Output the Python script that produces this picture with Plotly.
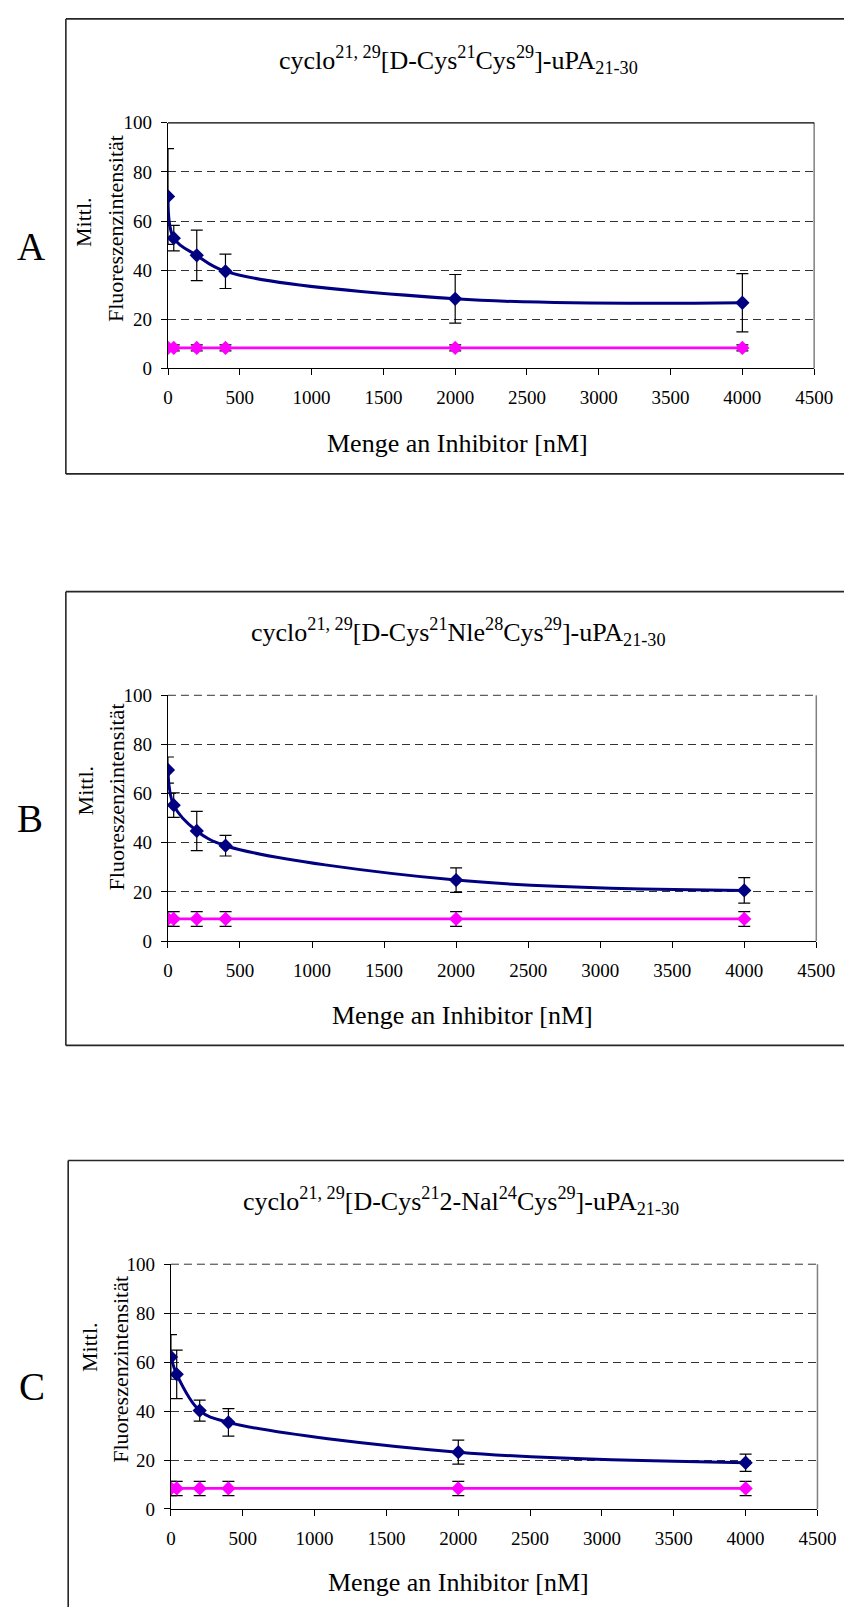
import plotly.graph_objects as go

W, H = 863, 1618

# ---------------- data ----------------
conc = [0, 40, 200, 400, 2000, 4000]

a_inhib = [70.0, 53.0, 46.0, 39.5, 28.3, 26.7]
a_inhib_err = [19.5, 5.2, 10.3, 7.0, 9.9, 11.9]
a_ctrl = [8.3, 8.3, 8.3, 8.3, 8.3, 8.3]
a_ctrl_err = [1.2, 1.2, 1.2, 1.2, 1.2, 1.2]

b_inhib = [69.6, 55.3, 44.8, 38.8, 24.8, 20.6]
b_inhib_err = [5.3, 5.0, 8.0, 4.2, 5.0, 5.2]
b_ctrl = [9.0, 9.0, 9.0, 9.0, 9.0, 9.0]
b_ctrl_err = [3.0, 3.0, 3.0, 3.0, 3.0, 3.0]

c_inhib = [62.1, 55.0, 40.2, 35.4, 23.2, 18.9]
c_inhib_err = [9.1, 9.9, 4.3, 5.6, 4.9, 3.5]
c_ctrl = [8.4, 8.4, 8.4, 8.4, 8.4, 8.4]
c_ctrl_err = [2.9, 2.9, 2.9, 2.9, 2.9, 2.9]

titles = [
    "cyclo<sup>21, 29</sup>[D-Cys<sup>21</sup>Cys<sup>29</sup>]-uPA<sub>21-30</sub>",
    "cyclo<sup>21, 29</sup>[D-Cys<sup>21</sup>Nle<sup>28</sup>Cys<sup>29</sup>]-uPA<sub>21-30</sub>",
    "cyclo<sup>21, 29</sup>[D-Cys<sup>21</sup>2-Nal<sup>24</sup>Cys<sup>29</sup>]-uPA<sub>21-30</sub>",
]
panel_letters = ["A", "B", "C"]
x_title = "Menge an Inhibitor [nM]"
y_title_1 = "Mittl."
y_title_2 = "Fluoreszenzintensität"
x_ticks = [0, 500, 1000, 1500, 2000, 2500, 3000, 3500, 4000, 4500]
y_ticks = [0, 20, 40, 60, 80, 100]

# ---------------- layout (pixel geometry) ----------------
FONT = "Liberation Serif, Times New Roman, serif"
NAVY = "#000080"
MAGENTA = "#FF00FF"
FRAME_COL = "#262626"

panels = [
    dict(inh=a_inhib, inh_e=a_inhib_err, ctl=a_ctrl, ctl_e=a_ctrl_err,
         plot=(167.7, 114.3, 832.3, 363.0), frame=(62.6, 9.0, 470.0),
         title=(466, 51), xt=(465, 439), yt1=(80, 215), yt2=(113, 221),
         letter=(27, 240), top_solid=True),
    dict(inh=b_inhib, inh_e=b_inhib_err, ctl=b_ctrl, ctl_e=b_ctrl_err,
         plot=(167.6, 694.3, 834.5, 943.3), frame=(62.6, 589.3, 1049.0),
         title=(466, 630), xt=(471, 1019), yt1=(83, 791), yt2=(115, 797),
         letter=(26, 819), top_solid=False),
    dict(inh=c_inhib, inh_e=c_inhib_err, ctl=c_ctrl, ctl_e=c_ctrl_err,
         plot=(170.7, 1270.7, 835.7, 1518.7), frame=(65.0, 1165.7, None),
         title=(469, 1207), xt=(466, 1593), yt1=(87, 1355), yt2=(118, 1377),
         letter=(28, 1395), top_solid=False),
]


def px(x):
    return x / W


def py(y):
    return 1 - y / H


fig = go.Figure()
shapes = []
annotations = []

for i, p in enumerate(panels):
    n = i + 1
    xa = "x" if n == 1 else f"x{n}"
    ya = "y" if n == 1 else f"y{n}"
    x0, y0, x1, y1 = p["plot"]

    fig.add_trace(go.Scatter(
        x=conc, y=p["ctl"], xaxis=xa, yaxis=ya, mode="lines+markers",
        line=dict(color=MAGENTA, width=2.8),
        marker=dict(symbol="diamond", size=11, color=MAGENTA),
        error_y=dict(type="data", array=p["ctl_e"], color="black", thickness=1.2, width=6),
        showlegend=False, hoverinfo="skip"))
    fig.add_trace(go.Scatter(
        x=conc, y=p["inh"], xaxis=xa, yaxis=ya, mode="lines+markers",
        line=dict(color=NAVY, width=3, shape="spline", smoothing=1.0),
        marker=dict(symbol="diamond", size=11, color=NAVY),
        error_y=dict(type="data", array=p["inh_e"], color="black", thickness=1.2, width=6),
        showlegend=False, hoverinfo="skip"))

    axis_common = dict(
        showline=True, linecolor="black", linewidth=1.3,
        ticks="outside", ticklen=6, tickwidth=1.2, tickcolor="black",
        tickfont=dict(family=FONT, size=19, color="black"),
        zeroline=False, mirror=False,
    )
    fig.layout[f"xaxis{'' if n == 1 else n}"] = dict(
        axis_common, domain=[px(x0), px(x1)], anchor=ya, range=[0, 4500],
        tickvals=x_ticks, showgrid=False, ticklabelstandoff=6,
    )
    fig.layout[f"yaxis{'' if n == 1 else n}"] = dict(
        axis_common, domain=[py(y1), py(y0)], anchor=xa, range=[0, 100],
        tickvals=y_ticks, showgrid=True, gridcolor="#333333", gridwidth=1,
        griddash="8px,5px", ticklabelstandoff=5,
    )

    # right border (grey) and top border
    shapes.append(dict(type="line", xref=f"{xa} domain", yref=f"{ya} domain",
                       x0=1, x1=1, y0=0, y1=1, line=dict(color="#808080", width=1.5)))
    if p["top_solid"]:
        shapes.append(dict(type="line", xref=f"{xa} domain", yref=f"{ya} domain",
                           x0=0, x1=1, y0=1, y1=1, line=dict(color="black", width=1.3)))
    else:
        shapes.append(dict(type="line", xref=f"{xa} domain", yref=f"{ya} domain",
                           x0=0, x1=1, y0=1, y1=1,
                           line=dict(color="#333333", width=1, dash="8px,5px")))

    # outer frame (open to the right; kept inside the page)
    fx0, fy0, fy1 = p["frame"]
    bottom = fy1 if fy1 is not None else H
    shapes.append(dict(type="line", xref="paper", yref="paper",
                       x0=px(fx0), x1=px(fx0), y0=py(bottom), y1=py(fy0),
                       line=dict(color=FRAME_COL, width=1.6), layer="below"))
    shapes.append(dict(type="line", xref="paper", yref="paper",
                       x0=px(fx0), x1=1, y0=py(fy0), y1=py(fy0),
                       line=dict(color=FRAME_COL, width=1.6), layer="below"))
    if fy1 is not None:
        shapes.append(dict(type="line", xref="paper", yref="paper",
                           x0=px(fx0), x1=1, y0=py(fy1), y1=py(fy1),
                           line=dict(color=FRAME_COL, width=1.6), layer="below"))

    # texts
    tx, ty = p["title"]
    annotations.append(dict(text=titles[i], x=px(tx), y=py(ty), xref="paper", yref="paper",
                            xanchor="center", yanchor="middle", showarrow=False,
                            font=dict(family=FONT, size=26, color="black")))
    xx, xy = p["xt"]
    annotations.append(dict(text=x_title, x=px(xx), y=py(xy), xref="paper", yref="paper",
                            xanchor="center", yanchor="middle", showarrow=False,
                            font=dict(family=FONT, size=26, color="black")))
    for (ax, ay), txt in ((p["yt1"], y_title_1), (p["yt2"], y_title_2)):
        annotations.append(dict(text=txt, x=px(ax), y=py(ay), xref="paper", yref="paper",
                                xanchor="center", yanchor="middle", showarrow=False,
                                textangle=-90,
                                font=dict(family=FONT, size=22, color="black")))
    lx, ly = p["letter"]
    annotations.append(dict(text=panel_letters[i], x=px(lx), y=py(ly), xref="paper", yref="paper",
                            xanchor="center", yanchor="middle", showarrow=False,
                            font=dict(family=FONT, size=39, color="black")))

fig.update_layout(
    width=W, height=H, margin=dict(l=0, r=0, t=0, b=0),
    paper_bgcolor="white", plot_bgcolor="white",
    shapes=shapes, annotations=annotations, showlegend=False,
)

fig.write_html(
    "out.html", config={"displayModeBar": False},
    post_script=("document.body.style.margin='0px';"
                 "document.body.style.overflow='hidden';"
                 "document.documentElement.style.overflow='hidden';"),
)
